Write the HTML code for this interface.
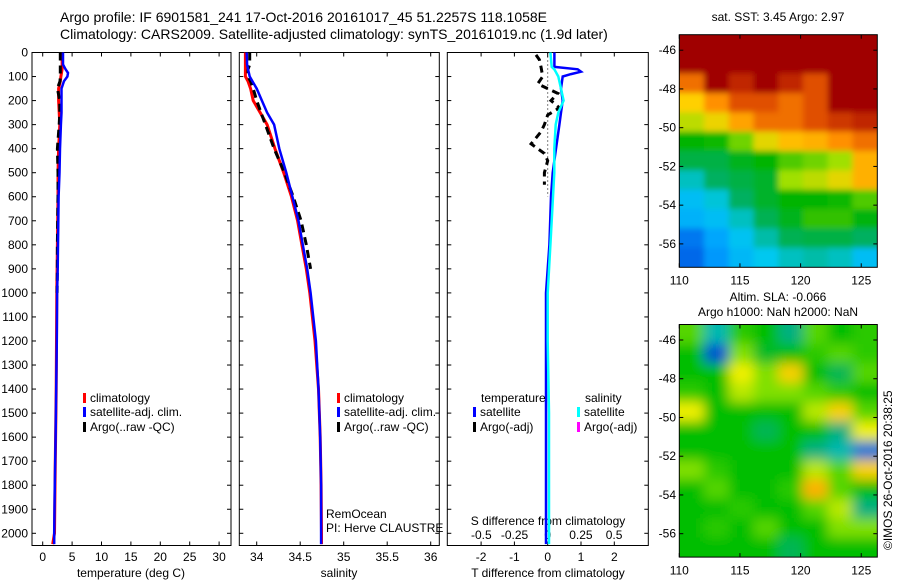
<!DOCTYPE html>
<html><head><meta charset="utf-8"><style>
body{margin:0;background:#fff;}
svg{display:block;font-family:"Liberation Sans",sans-serif;}
</style></head><body>
<svg id="c" width="900" height="580" xmlns="http://www.w3.org/2000/svg">
<text x="60" y="22" font-size="14">Argo profile: IF 6901581_241 17-Oct-2016 20161017_45 51.2257S 118.1058E</text>
<text x="60" y="39" font-size="14">Climatology: CARS2009. Satellite-adjusted climatology: synTS_20161019.nc (1.9d later)</text>
<g id="g"></g>
</svg>
<script>
// ---- data ----
const depths=[0,50,70,85,100,120,150,200,250,300,400,500,600,700,800,900,1000,1200,1400,1600,1800,2000,2045];
const tempSat=[3.45,3.45,3.9,4.3,4.2,3.6,3.2,3.2,3.2,3.1,2.95,2.85,2.7,2.65,2.6,2.55,2.45,2.4,2.3,2.2,2.05,1.95,1.95];
const tempClim=[3.3,3.3,3.3,3.2,3.1,3.0,2.7,2.7,2.8,2.9,2.7,2.6,2.6,2.55,2.5,2.45,2.4,2.35,2.3,2.2,2.1,2.0,1.7];
const tempArgo=[3.0,3.0,3.0,3.0,3.0,2.95,2.5,2.9,2.9,2.8,2.5,2.6,2.6,2.55,2.5,2.5,2.45,null,null,null,null,null,null];
const salSat=[33.885,33.89,33.9,33.91,33.92,33.95,34.0,34.06,34.12,34.2,34.26,34.34,34.41,34.48,34.53,34.58,34.62,34.68,34.71,34.73,34.74,34.74,34.74];
const salClim=[33.87,33.87,33.87,33.87,33.87,33.9,33.93,33.96,34.04,34.12,34.21,34.31,34.40,34.47,34.52,34.57,34.61,34.67,34.71,34.73,34.74,34.745,34.745];
const salArgo=[33.92,33.92,33.9,33.9,33.9,33.93,33.96,34.0,34.05,34.1,34.2,34.32,34.42,34.51,34.57,34.62,null,null,null,null,null,null,null];
const diffDepths=[0,60,70,80,90,100,150,200,250,300,400,500,600,800,1000,1200,1500,1800,2000,2045];
const diffTSat=[0.2,0.2,0.9,1.0,0.7,0.45,0.4,0.45,0.4,0.35,0.25,0.15,0.1,0.05,-0.05,-0.05,-0.05,-0.05,-0.05,-0.05];
const diffSSat=[0.02,0.03,0.05,0.06,0.07,0.08,0.1,0.12,0.08,0.06,0.05,0.05,0.04,0.02,0.0,0.0,0.01,0.01,0.01,0.01];
const argoDiffDepths=[10,30,60,100,130,150,170,200,230,260,300,330,380,420,450,500,550];
const argoDiffT=[-0.35,-0.25,-0.2,-0.15,-0.3,0.0,0.3,0.1,0.35,0.0,-0.1,-0.2,-0.5,-0.1,0.0,-0.1,-0.1];
const depthTicks=[0,100,200,300,400,500,600,700,800,900,1000,1100,1200,1300,1400,1500,1600,1700,1800,1900,2000];
const tempTicks=[0,5,10,15,20,25,30];
const salTicks=[34,34.5,35,35.5,36];
const dTTicks=[-2,-1,0,1,2];
const dSTicks=[-0.5,-0.25,0,0.25,0.5];
const lonTicks=[110,115,120,125];
const latTicks=[-46,-48,-50,-52,-54,-56];
const sstGrid=[
[10,10,10,10,10,10,10,10],
[10,10,10,10,10,10,10,10],
[8,9.5,9,10,9,8.5,9.5,10],
[6.5,7.5,8.5,8.5,8,8.5,10,10],
[5.8,6.3,7.2,8,8,8.5,8.8,9],
[4.5,4.6,5.2,6.2,6.8,7,7.5,8],
[4,4,4.3,4.5,5,5.2,5.5,7],
[3.4,3.8,4,4.2,5.5,5.8,6.2,7],
[3,3.3,3.8,4.2,4.5,4.5,4.6,5],
[2.8,3,3.4,3.9,4.3,4.8,4.8,4.4],
[2,2.6,3.1,3.5,3.9,4,4,3.8],
[1.8,2.4,2.9,3.2,3.4,3.5,3.4,3]];
const slaGrid=[
[0.2,-0.4,0.1,0,-0.3,0.2,0,0.1],
[0,-0.8,0.3,-0.1,0,0.1,0.2,0.1],
[0,0,0.5,0.3,0.6,0,-0.2,0.2],
[0.1,0,0.4,0.3,0.3,0.2,0.1,0],
[0.5,0,0,0,0,0.4,0.6,0.2],
[0,0,0,-0.2,0,0,-0.3,0.5],
[0,0,0,0,0,-0.3,-0.4,-0.7],
[0.3,0.1,0,0,0,0.4,0.2,0.6],
[0,0.2,0,0,0.1,0.7,0.2,0],
[0,0,0.1,0,0,0.2,0.4,-0.3],
[0,0.1,0,0.2,0,0,0.3,0.3],
[0,0,0,0,-0.2,0,0,0]];
const gridLon0=110, gridDLon=2.04, gridLat0=-45.2, gridDLat=1;

// ---- geometry ----
const NS='http://www.w3.org/2000/svg';
const G=document.getElementById('g');
function el(t,a,p){const e=document.createElementNS(NS,t);for(const k in a)e.setAttribute(k,a[k]);(p||G).appendChild(e);return e;}
const yTop=52.5,bot=545.5;
const yD=d=>yTop+d*0.2404;
const P1={x0:32,x1:231}, P2={x0:239.3,x1:439.3}, P3={x0:447.3,x1:648.3};
const xT=v=>42.7+v*5.88;
const xS=v=>256.7+(v-34)*87;
const xdT=v=>547.7+v*33.3;
const xdS=v=>547.7+v*132.7;

function frame(P,name){
  const r=el('rect',{x:P.x0,y:yTop,width:P.x1-P.x0,height:bot-yTop,fill:'none',stroke:'#000','stroke-width':1});
  
  
  depthTicks.forEach(d=>{
    el('line',{x1:P.x0,x2:P.x0+4,y1:yD(d),y2:yD(d),stroke:'#000'});
    el('line',{x1:P.x1,x2:P.x1-4,y1:yD(d),y2:yD(d),stroke:'#000'});
  });
}
function xticks(P,ticks,fx,labels,ly){
  ticks.forEach(v=>{const x=fx(v);
    el('line',{x1:x,x2:x,y1:bot,y2:bot-4,stroke:'#000'});
    el('line',{x1:x,x2:x,y1:yTop,y2:yTop+4,stroke:'#000'});
    if(labels){const t=el('text',{x:x,y:ly,'font-size':12,'text-anchor':'middle'});t.textContent=String(v);
      
      }
  });
}
function txt(x,y,s,name,opt){const t=el('text',Object.assign({x:x,y:y,'font-size':12},opt||{}));t.textContent=s;
  
  return t;}
function line(xs,ds,fx,color,w,dash,name){
  let segs=[],cur=[];
  xs.forEach((v,i)=>{if(v===null){if(cur.length)segs.push(cur);cur=[];}else cur.push(fx(v).toFixed(1)+','+yD(ds[i]).toFixed(1));});
  if(cur.length)segs.push(cur);
  segs.forEach(s=>{const p=el('polyline',{points:s.join(' '),fill:'none',stroke:color,'stroke-width':w,'stroke-dasharray':dash||'none'});
    
    });
}
function legend(x,y,color,label,name){
  el('rect',{x:x,y:y-9,width:3,height:10,fill:color});
  txt(x+7,y,label,name);
}

// Panel 1
frame(P1,'temperature-panel');
depthTicks.forEach(d=>txt(28,yD(d)+4,String(d),'y-tick-label',{'text-anchor':'end'}));
xticks(P1,tempTicks,xT,true,561);
txt(131,577,'temperature (deg C)','x-axis-title-temperature',{'text-anchor':'middle'});
line(tempClim,depths,xT,'#f00',3,null,'temp-climatology-line');
line(tempArgo,depths,xT,'#000',3,'8,5','temp-argo-line');
line(tempSat,depths,xT,'#00f',2.5,null,'temp-satellite-line');
legend(83,402,'#f00','climatology','legend-climatology');
legend(83,416,'#00f','satellite-adj. clim.','legend-satellite');
legend(83,431,'#000','Argo(..raw -QC)','legend-argo');

// Panel 2
frame(P2,'salinity-panel');
xticks(P2,salTicks,xS,true,561);
txt(339,577,'salinity','x-axis-title-salinity',{'text-anchor':'middle'});
line(salClim,depths,xS,'#f00',3,null,'sal-climatology-line');
line(salArgo,depths,xS,'#000',3,'8,5','sal-argo-line');
line(salSat,depths,xS,'#00f',2.5,null,'sal-satellite-line');
legend(337,402,'#f00','climatology','legend-climatology-2');
legend(337,416,'#00f','satellite-adj. clim.','legend-satellite-2');
legend(337,431,'#000','Argo(..raw -QC)','legend-argo-2');
txt(326,518,'RemOcean','pi-group-label');
txt(326,532,'PI: Herve CLAUSTRE','pi-name-label');

// Panel 3
frame(P3,'difference-panel');
xticks(P3,dTTicks,xdT,true,561);
dSTicks.forEach(v=>txt(xdS(v),539,String(v),'s-diff-tick-label',{'text-anchor':'middle'}));
txt(548,525,'S difference from climatology','s-diff-axis-title',{'text-anchor':'middle'});
txt(548,577,'T difference from climatology','t-diff-axis-title',{'text-anchor':'middle'});
el('line',{x1:xdT(0),x2:xdT(0),y1:yD(0),y2:yD(600),stroke:'#000','stroke-dasharray':'1,3'});
line(argoDiffT,argoDiffDepths,xdT,'#000',3,'7,5','diff-t-argo-line');
line(diffTSat,diffDepths,xdT,'#00f',2.5,null,'diff-t-satellite-line');
line(diffSSat,diffDepths,xdS,'#0ff',2.5,null,'diff-s-satellite-line');
txt(481,402,'temperature','legend-title-temperature');
txt(585,402,'salinity','legend-title-salinity');
legend(473,416,'#00f','satellite','legend-t-satellite');
legend(473,431,'#000','Argo(-adj)','legend-t-argo');
legend(577,416,'#0ff','satellite','legend-s-satellite');
legend(577,431,'#f0f','Argo(-adj)','legend-s-argo');

// Maps
function ramp(stops){
  return v=>{
    if(v<=stops[0][0])return stops[0][1];
    for(let i=1;i<stops.length;i++){
      if(v<=stops[i][0]){const a=stops[i-1],b=stops[i],t=(v-a[0])/(b[0]-a[0]);
        const c=a[1].map((x,k)=>Math.round(x+(b[1][k]-x)*t));return c;}
    }
    return stops[stops.length-1][1];
  };
}
const sstColor=ramp([[1.5,[0,80,224]],[2.5,[0,160,255]],[3.2,[0,200,240]],[3.8,[0,176,96]],[4.5,[0,180,0]],[5.5,[160,224,0]],[6.5,[255,208,0]],[7.5,[255,144,0]],[8.5,[224,80,0]],[9.5,[160,0,0]]]);
const slaColor=ramp([[-0.8,[0,80,208]],[-0.5,[0,192,224]],[-0.3,[0,176,128]],[0,[0,190,0]],[0.3,[128,224,0]],[0.5,[240,240,0]],[0.7,[255,176,0]]]);
const defs=el('defs',{});
function drawMap(M,grid,colorFn,name,blur){
  const xL=v=>M.x0+(v-110)*12.13, yL=v=>M.y0+(-45.2-v)*19.37;
  const cp=el('clipPath',{id:'clip'+name},defs);
  el('rect',{x:M.x0,y:M.y0,width:198,height:232.6},cp);
  const f=el('filter',{id:'f'+name,x:'-10%',y:'-10%',width:'120%',height:'120%'},defs);
  el('feGaussianBlur',{stdDeviation:blur},f);
  const outer=el('g',{'clip-path':`url(#clip${name})`});
  
  
  const g=el('g',{filter:`url(#f${name})`},outer);
  grid.forEach((row,i)=>row.forEach((v,j)=>{
    const x=xL(gridLon0+j*gridDLon),y=yL(gridLat0-i*gridDLat);
    const ext0=j==0?-20:0, extR=j==row.length-1?20:0, ey0=i==0?-20:0, eyR=i==grid.length-1?20:0;
    const c=colorFn(v);
    const r=el('rect',{x:x+ext0,y:y+ey0,width:gridDLon*12.13+1-ext0+extR,height:gridDLat*19.37+1-ey0+eyR,fill:`rgb(${c[0]},${c[1]},${c[2]})`},g);
    
    
  }));
  el('rect',{x:M.x0,y:M.y0,width:198,height:232.6,fill:'none',stroke:'#000'});
  latTicks.forEach(v=>{const y=yL(v);
    el('line',{x1:M.x0,x2:M.x0+4,y1:y,y2:y,stroke:'#000'});
    el('line',{x1:M.x0+198,x2:M.x0+194,y1:y,y2:y,stroke:'#000'});
    txt(676,y+4,String(v),'map-lat-label',{'text-anchor':'end'});});
  lonTicks.forEach(v=>{const x=xL(v);
    el('line',{x1:x,x2:x,y1:M.y0+232.6,y2:M.y0+228.6,stroke:'#000'});
    el('line',{x1:x,x2:x,y1:M.y0,y2:M.y0+4,stroke:'#000'});
    txt(x,M.y0+250,String(v),'map-lon-label',{'text-anchor':'middle'});});
}
drawMap({x0:679.3,y0:34.7},sstGrid,sstColor,'sst-map',3);
drawMap({x0:679.3,y0:324.5},slaGrid,slaColor,'sla-map',6);
txt(778,21,'sat. SST: 3.45 Argo: 2.97','sst-map-title',{'text-anchor':'middle'});
txt(778,301,'Altim. SLA: -0.066','sla-map-title',{'text-anchor':'middle'});
txt(778,316,'Argo h1000: NaN h2000: NaN','sla-map-subtitle',{'text-anchor':'middle'});
txt(0,0,'©IMOS 26-Oct-2016 20:38:25','imos-timestamp',{transform:'translate(892,550) rotate(-90)'});
</script>
</body></html>
